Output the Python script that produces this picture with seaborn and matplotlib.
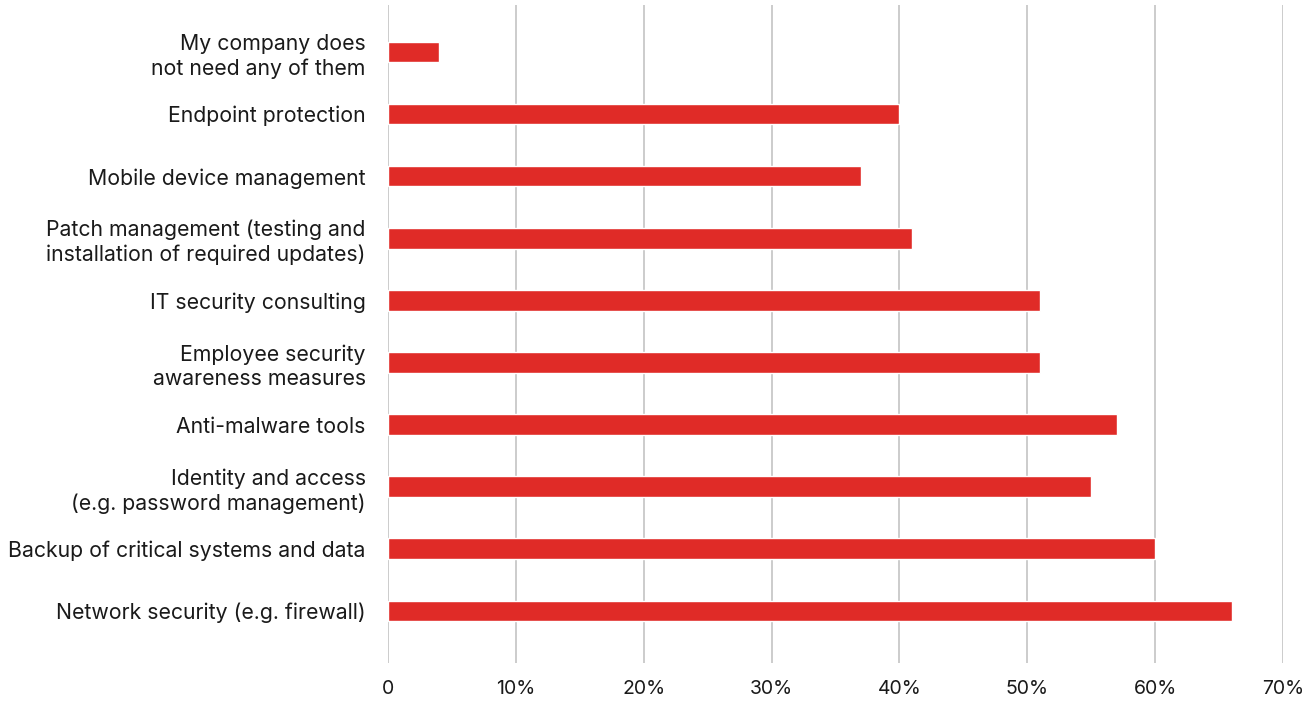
import matplotlib
matplotlib.use("Agg")
import matplotlib.pyplot as plt
import seaborn as sns
import pandas as pd

categories = [
    "My company does\nnot need any of them",
    "Endpoint protection",
    "Mobile device management",
    "Patch management (testing and\ninstallation of required updates)",
    "IT security consulting",
    "Employee security\nawareness measures",
    "Anti-malware tools",
    "Identity and access\n(e.g. password management)",
    "Backup of critical systems and data",
    "Network security (e.g. firewall)",
]
shares = [4, 40, 37, 41, 51, 51, 57, 55, 60, 66]
x_ticks = [0, 10, 20, 30, 40, 50, 60, 70]
x_tick_labels = ["0", "10%", "20%", "30%", "40%", "50%", "60%", "70%"]

df = pd.DataFrame({"category": categories, "share": shares})

sns.set_style("white")
plt.rcParams["font.family"] = ["Inter", "DejaVu Sans"]

fig = plt.figure(figsize=(13.14, 7.02), dpi=100)
ax = fig.add_axes([0.2953, 0.0556, 0.9764 - 0.2953, 0.993 - 0.0556])

sns.barplot(data=df, x="share", y="category", orient="h", color="#E02B27",
            width=0.33, saturation=1, ax=ax, zorder=3)

ax.set_xlim(0, 70)
ax.set_ylim(9.84, -0.76)
ax.set_xticks(x_ticks)
ax.set_xticklabels(x_tick_labels, fontsize=14, color="#1a1a1a")
ax.set_yticks(range(len(categories)))
ax.set_yticklabels(categories, fontsize=15.3, color="#1a1a1a", linespacing=1.28)
ax.tick_params(axis="x", length=0, pad=12)
ax.tick_params(axis="y", length=0, pad=16)
ax.set_xlabel("")
ax.set_ylabel("")

ax.grid(axis="x", color="#CCCCCC", linewidth=1.4, zorder=0)
ax.grid(axis="y", visible=False)
for s in ax.spines.values():
    s.set_visible(False)

fig.savefig("out.png", dpi=100)
